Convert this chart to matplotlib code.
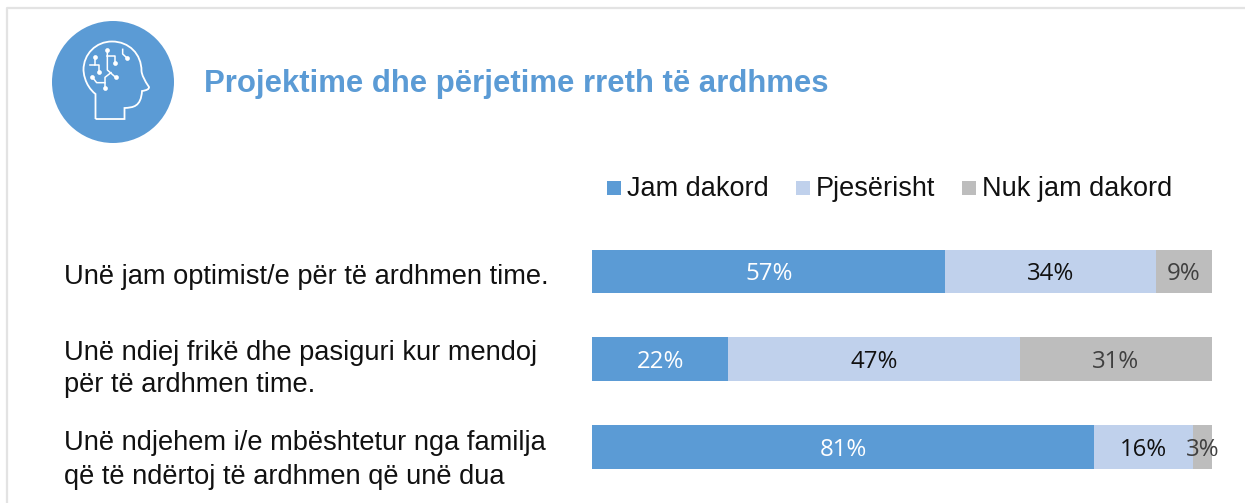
import matplotlib
matplotlib.use("Agg")
import matplotlib.pyplot as plt
from matplotlib.patches import Circle, PathPatch, Rectangle
from matplotlib.path import Path

title = "Projektime dhe përjetime rreth të ardhmes"
categories = ["Unë jam optimist/e për të ardhmen time.",
              "Unë ndiej frikë dhe pasiguri kur mendoj\npër të ardhmen time.",
              "Unë ndjehem i/e mbështetur nga familja\nqë të ndërtoj të ardhmen që unë dua"]
series_names = ["Jam dakord", "Pjesërisht", "Nuk jam dakord"]
jam_dakord = [57, 22, 81]
pjeserisht = [34, 47, 16]
nuk_jam = [9, 31, 3]
colors = ["#5B9BD5", "#C0D1EC", "#BDBDBD"]
label_colors = ["white", "#111111", "#404040"]

W, H = 1245, 503
fig = plt.figure(figsize=(W / 100, H / 100), dpi=100, facecolor="white")

# overlay in pixel coordinates for decoration and text
ov = fig.add_axes([0, 0, 1, 1], zorder=3)
ov.set_xlim(0, W); ov.set_ylim(H, 0); ov.axis("off")
ov.patch.set_alpha(0)
ov.plot([7, 7, W], [H, 8, 8], color="#E3E3E3", lw=1.6, solid_capstyle="butt")

ov.add_patch(Circle((113, 82), 61, fc="#5B9BD5", ec="none"))
C3 = Path.CURVE3; C4 = Path.CURVE4; LT = Path.LINETO
head = [((95.5, 119), Path.MOVETO), ((95.5, 94), LT),
        ((84, 85), C4), ((83.5, 71), C4), ((83.5, 70), C4),
        ((83.5, 54), C4), ((96, 41.5), C4), ((112, 41.5), C4),
        ((129, 41.5), C4), ((141.5, 54), C4), ((141.5, 71), C4),
        ((142, 77), C3), ((149, 87), C3), ((149.5, 90), C3), ((142, 91), C3),
        ((141, 107), C4), ((133, 107.5), C4), ((124.5, 108), C4),
        ((124.5, 119), LT), ((95.5, 119), LT)]
ov.add_patch(PathPatch(Path([h[0] for h in head], [h[1] for h in head]),
                       fc="none", ec="white", lw=1.3))
ic = lambda p: [(x / 3, y / 3) for x, y in p]
traces = [[(286, 172), (286, 195), (270, 195)], [(286, 195), (298, 195), (298, 217)],
          [(322, 150), (322, 210), (347, 232)], [(322, 168), (345, 168), (345, 190)],
          [(368, 148), (368, 162), (380, 173)], [(276, 230), (290, 248), (315, 248), (315, 264)],
          [(315, 248), (315, 232), (333, 218)]]
for t in traces:
    xs, ys = zip(*ic(t))
    ov.plot(xs, ys, color="white", lw=1.1)
dots = [(286, 172), (298, 217), (322, 150), (345, 190), (380, 173), (347, 232), (276, 230), (315, 264)]
xs, ys = zip(*ic(dots))
ov.plot(xs, ys, "o", color="white", ms=3.4, mew=0, ls="none")

ov.text(204, 84, title, fontsize=22.4, fontweight="bold", color="#5B9BD5",
        family="Liberation Sans", va="center", ha="left")

# bars
ax = fig.add_axes([592 / W, 1 - 491 / H, 620 / W, 263.4 / H], zorder=2)
left = [0, 0, 0]
for vals, c, lc in zip([jam_dakord, pjeserisht, nuk_jam], colors, label_colors):
    ax.barh(range(3), vals, left=left, height=0.5, color=c, edgecolor="none")
    for i, (v, l) in enumerate(zip(vals, left)):
        ax.text(l + v / 2, i + 0.03, f"{v}%", color=lc, ha="center", va="center",
                fontsize=17.3, family="Open Sans")
    left = [a + b for a, b in zip(left, vals)]
ax.set_xlim(0, 100); ax.set_ylim(2.5, -0.5); ax.axis("off")

label_y = [277, 369, 460]
for s, y in zip(categories, label_y):
    ov.text(64, y, s, fontsize=19.6, family="Liberation Sans", color="#111111",
            va="center", ha="left", linespacing=1.35)

# legend
leg_sq = [607, 796, 962]
leg_tx = [627, 816, 982]
for name, c, sx, tx in zip(series_names, colors, leg_sq, leg_tx):
    ov.add_patch(Rectangle((sx, 181), 14, 14, fc=c, ec="none"))
    ov.text(tx, 189, name, fontsize=19.5, family="Liberation Sans", color="#111111",
            va="center", ha="left")

fig.savefig("out.png", dpi=100)
